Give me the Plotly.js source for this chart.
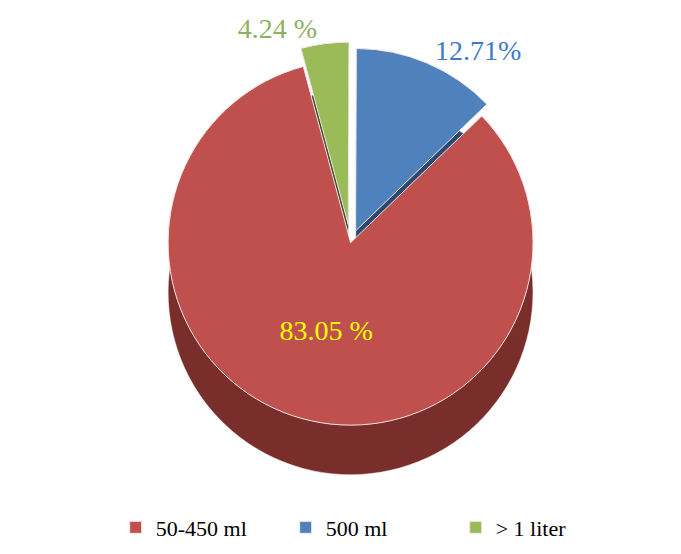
<!DOCTYPE html>
<html>
<head>
<meta charset="utf-8">
<script src="https://cdn.plot.ly/plotly-3.0.1.min.js"></script>
<style>html,body{margin:0;padding:0;background:#fff;}#chart{width:681px;height:554px;}</style>
</head>
<body>
<div id="chart"></div>
<script>
// Data
var categories = ["50-450 ml", "500 ml", "> 1 liter"];
var percentValues = [83.05, 12.71, 4.24];
var valueLabels = ["83.05 %", "12.71%", "4.24 %"];

// Styles
var serif = "Liberation Serif, DejaVu Serif, serif";
var topColors = ["#C0504D", "#4F81BD", "#9BBB59"];
var sideColors = ["#7A2E2C", "#2C4A70", "#3B4A22"];
var labelColors = ["#FFFF00", "#3C7AD0", "#8FB060"];
var pulls = [0, 0.07, 0.1];
var shift = 0.11;

var mainDomain = {x: [0.03, 1], y: [shift, 1]};
var sideDomain = {x: [0.03, 1], y: [0, 1 - shift]};

var sideTrace = {
  type: "pie",
  labels: categories,
  values: percentValues,
  sort: false,
  direction: "counterclockwise",
  rotation: 46,
  pull: pulls,
  domain: sideDomain,
  marker: {colors: sideColors, line: {color: "#ffffff", width: 0.5}},
  textinfo: "none",
  hoverinfo: "skip",
  showlegend: false
};

var topTrace = {
  type: "pie",
  labels: categories,
  values: percentValues,
  text: valueLabels,
  sort: false,
  direction: "counterclockwise",
  rotation: 46,
  pull: pulls,
  domain: mainDomain,
  marker: {colors: topColors, line: {color: "#f4e6e6", width: 1}},
  textinfo: "text",
  textposition: ["inside", "outside", "outside"],
  insidetextorientation: "horizontal",
  textfont: {family: serif, size: 28, color: labelColors},
  insidetextfont: {family: serif, size: 28, color: labelColors},
  outsidetextfont: {family: serif, size: 28, color: labelColors},
  showlegend: true
};

var layout = {
  width: 681,
  height: 554,
  margin: {l: 5, r: 5, t: 42, b: 34},
  paper_bgcolor: "#ffffff",
  font: {family: serif},
  showlegend: true,
  legend: {
    orientation: "h",
    x: 0.545, xanchor: "center",
    y: -0.03, yanchor: "top",
    font: {family: serif, size: 22, color: "#000000"},
    entrywidth: 125,
    entrywidthmode: "pixels",
    traceorder: "normal"
  }
};

Plotly.newPlot("chart", [sideTrace, topTrace], layout, {displayModeBar: false, staticPlot: true});
</script>
</body>
</html>
